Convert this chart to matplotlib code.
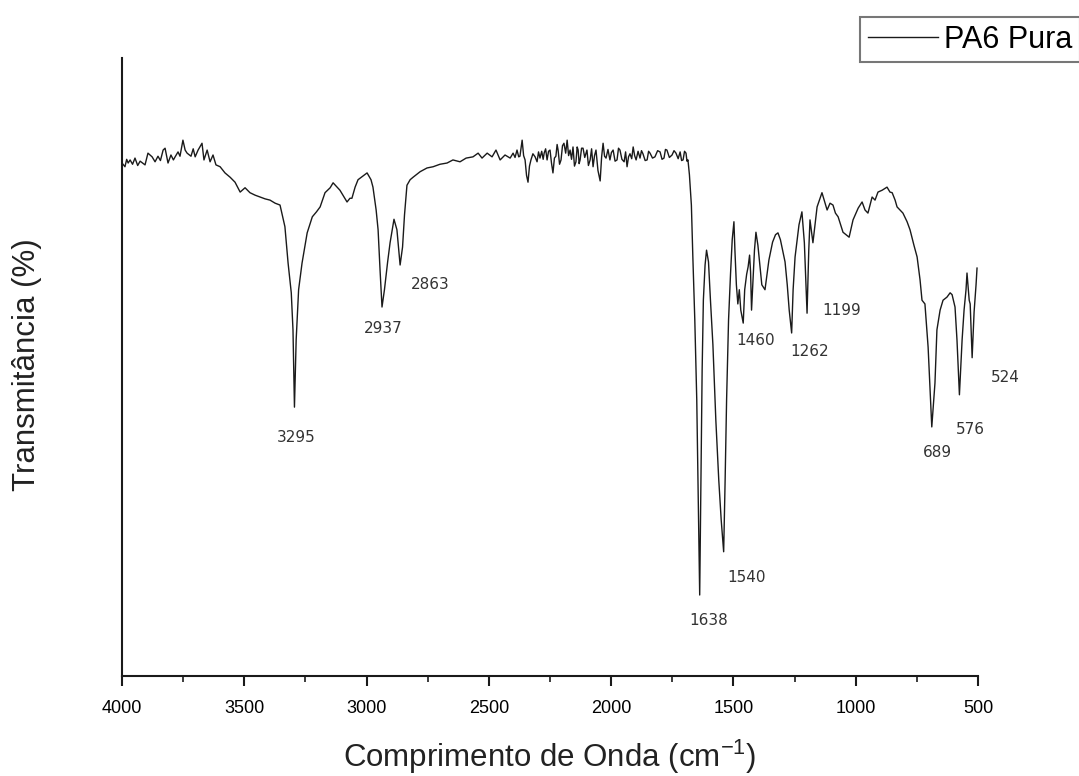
import matplotlib.pyplot as plt
import numpy as np

# FTIR spectrum of neat PA6 (wavenumber in cm-1, transmittance in %)
wavenumber = [
    4000, 3988, 3981, 3975, 3967, 3957, 3947, 3936, 3926, 3906, 3894, 3877, 3865, 3853,
    3843, 3832, 3824, 3812, 3800, 3790, 3783, 3771, 3763, 3751, 3742, 3734, 3718, 3709,
    3701, 3689, 3673, 3665, 3652, 3640, 3628, 3616, 3599, 3579, 3558, 3538, 3517, 3497,
    3477, 3456, 3436, 3415, 3395, 3374, 3354,
    3334, 3321, 3308, 3301, 3295, 3288, 3278, 3264, 3243, 3222, 3205, 3190, 3170, 3149,
    3137, 3121, 3109, 3080, 3068, 3060, 3047, 3035, 3015, 2998, 2982, 2974, 2961, 2953,
    2945, 2937, 2927, 2914, 2904, 2888, 2876, 2863, 2853, 2845, 2835, 2822, 2810, 2794,
    2781, 2753, 2728, 2700, 2671, 2647, 2618, 2593, 2565, 2544, 2528, 2507, 2487, 2471,
    2454, 2434, 2413,
    2401, 2393, 2385, 2378, 2373, 2368, 2364, 2358, 2352, 2346, 2340, 2334, 2328, 2320,
    2311, 2303, 2297, 2291, 2284, 2278, 2274, 2268, 2262, 2256, 2250, 2244, 2238, 2232,
    2226, 2221, 2217, 2211, 2205, 2199, 2193, 2186, 2180, 2174, 2168, 2162, 2156, 2150,
    2144, 2139, 2135, 2131, 2127, 2121, 2115, 2108, 2099, 2093, 2086, 2080, 2074, 2068,
    2062, 2054, 2045, 2039, 2033, 2027, 2021, 2013, 2005, 1999, 1992, 1984, 1976, 1970,
    1964, 1956, 1947, 1941, 1935, 1929, 1923, 1916, 1910, 1904, 1898, 1890, 1882, 1876,
    1870, 1861, 1853, 1847, 1841, 1831, 1821, 1810, 1800, 1792, 1784, 1778, 1772, 1762,
    1751, 1743, 1735, 1726, 1718, 1712, 1706, 1700, 1694, 1690,
    1686, 1680, 1672, 1666, 1658, 1650, 1644, 1638, 1633, 1628, 1623, 1616, 1610, 1602,
    1594, 1584, 1572, 1560, 1550, 1540, 1534, 1528, 1520, 1512, 1505, 1498, 1494, 1488,
    1482, 1476, 1470, 1460, 1454, 1446, 1440, 1434, 1430, 1426, 1420, 1414, 1408, 1400,
    1392, 1384, 1371, 1355, 1340, 1328, 1318, 1308, 1289, 1280, 1272, 1262, 1256, 1248,
    1232, 1220, 1210, 1199, 1192, 1187, 1175, 1158, 1138, 1117, 1105, 1093, 1083, 1072,
    1052, 1027, 1011, 990, 974, 962, 950, 933, 921, 909, 892, 872, 860, 851,
    839, 831, 819, 807, 790, 778, 762, 749, 737, 729, 717, 704, 696, 689,
    676, 668, 655, 643, 627, 614, 606, 594, 586, 576, 565, 557, 549, 545,
    536, 532, 524, 516, 508, 504,
]
transmittance = [
    83.0, 82.4, 83.6, 83.0, 83.5, 82.8, 83.8, 82.6, 83.3, 82.7, 84.6, 84.0, 83.2, 84.1,
    83.4, 85.1, 85.4, 83.0, 84.3, 83.5, 84.0, 84.8, 84.1, 86.7, 85.1, 84.6, 84.1, 85.3,
    84.0, 85.1, 86.2, 83.5, 85.1, 83.2, 84.3, 82.7, 82.4, 81.4, 80.7, 79.9, 78.3, 79.0,
    78.2, 77.8, 77.5, 77.2, 77.0, 76.5, 76.2,
    72.7, 66.8, 62.0, 56.0, 43.5, 54.4, 62.5, 66.8, 71.7, 74.3, 75.1, 75.9, 78.2, 79.0,
    79.8, 79.1, 78.6, 76.7, 77.3, 77.3, 79.1, 80.3, 80.9, 81.4, 80.3, 79.1, 75.4, 72.2,
    65.7, 59.7, 62.5, 67.0, 70.1, 73.9, 72.2, 66.5, 69.4, 74.6, 79.4, 80.3, 80.7, 81.2,
    81.6, 82.2, 82.4, 82.8, 83.0, 83.5, 83.2, 83.8, 84.0, 84.6, 83.8, 84.6, 84.0, 85.1,
    83.5, 84.3, 83.8,
    84.6, 83.9, 85.1, 84.0, 84.1, 85.5, 86.7, 84.2, 83.5, 81.0, 79.9, 82.5, 83.5, 84.5,
    84.0, 83.2, 84.8, 83.8, 84.9, 83.6, 84.6, 85.3, 83.5, 84.9, 85.1, 83.0, 81.4, 83.8,
    84.1, 86.0, 85.1, 82.8, 83.5, 85.8, 86.2, 84.6, 86.7, 84.2, 85.1, 83.6, 85.6, 82.5,
    83.2, 85.6, 85.1, 82.9, 83.5, 85.4, 85.4, 83.9, 85.1, 82.6, 83.5, 85.3, 82.4, 84.2,
    85.1, 81.8, 80.1, 84.0, 86.2, 84.1, 83.8, 85.2, 83.5, 84.7, 85.1, 83.3, 83.5, 85.4,
    85.1, 83.6, 83.2, 84.8, 82.4, 84.0, 84.5, 83.7, 85.6, 84.2, 83.5, 84.9, 83.8, 85.0,
    84.5, 83.4, 83.5, 84.9, 84.6, 83.8, 84.0, 85.0, 84.8, 83.6, 83.8, 85.2, 85.1, 83.9,
    84.3, 85.0, 84.6, 83.7, 84.8, 83.4, 83.5, 84.9, 84.6, 83.3,
    83.5, 81.1, 76.2, 67.8, 57.6, 44.7, 28.5, 13.1, 31.7, 49.5, 60.8, 66.5, 68.9, 67.0,
    60.8, 53.6, 41.4, 31.7, 25.2, 20.1, 31.7, 44.7, 57.6, 65.0, 70.6, 73.5, 68.9, 63.3,
    60.2, 62.5, 59.2, 57.1, 62.5, 65.0, 66.2, 68.1, 65.4, 59.2, 64.1, 68.9, 71.8, 69.7,
    66.5, 63.3, 62.5, 67.3, 70.2, 71.4, 71.7, 70.6, 67.0, 63.3, 59.2, 55.5, 62.5, 67.8,
    73.0, 75.1, 70.1, 58.7, 68.9, 73.8, 70.1, 75.9, 78.2, 75.4, 76.5, 76.2, 74.9, 74.3,
    71.8, 71.0, 73.8, 75.7, 76.7, 75.4, 74.9, 77.5, 77.0, 78.3, 78.6, 79.1, 78.3, 78.2,
    77.0, 75.9, 75.4, 74.9, 73.5, 72.2, 69.7, 67.8, 64.1, 60.8, 60.2, 53.2, 46.3, 40.3,
    47.4, 56.0, 59.2, 60.8, 61.3, 62.0, 61.7, 59.7, 54.4, 45.5, 54.4, 59.2, 62.5, 65.2,
    60.8, 60.2, 51.5, 58.9, 63.3, 66.0,
]

# labelled absorption bands and where each label sits relative to its minimum (pixels)
peak_positions = [3295, 2937, 2863, 1638, 1540, 1460, 1262, 1199, 689, 576, 524]
label_offsets = [(2, -30), (1, -21), (30, -20), (9, -25), (23, -26), (12, -17),
                 (18, -19), (35, 3), (6, -26), (11, -35), (33, -20)]

plt.rcParams['font.family'] = ['Liberation Sans', 'DejaVu Sans']
plt.rcParams['mathtext.default'] = 'regular'

fig = plt.figure(figsize=(10.79, 7.76), dpi=100)
ax = fig.add_axes([0.1131, 0.1289, 0.7933, 0.7964])

ax.plot(wavenumber, transmittance, color='#1a1a1a', linewidth=1.0, label='PA6 Pura')

for wn, off in zip(peak_positions, label_offsets):
    t = np.interp(wn, wavenumber[::-1], transmittance[::-1])
    ax.annotate(str(wn), xy=(wn, t), xytext=off, textcoords='offset pixels',
                ha='center', va='center', fontsize=11, color='#333333',
                family=['DejaVu Sans'])

ax.set_xlim(4000, 500)
ax.set_ylim(0, 100)
ax.spines[['top', 'right']].set_visible(False)
for side in ['left', 'bottom']:
    ax.spines[side].set_linewidth(1.5)
    ax.spines[side].set_color('#1a1a1a')

ax.set_yticks([])
ax.set_xticks(np.arange(4000, 499, -500))
ax.set_xticks(np.arange(3750, 500, -500), minor=True)
ax.tick_params(axis='x', which='major', length=7, width=1.5, labelsize=13, pad=10,
               color='#1a1a1a')
ax.tick_params(axis='x', which='minor', length=4, width=1.2, color='#1a1a1a')

ax.set_xlabel('Comprimento de Onda (cm$^{-1}$)', fontsize=22.5, color='#222222')
ax.set_ylabel('Transmitância (%)', fontsize=22.5, color='#222222')
ax.xaxis.set_label_coords(0.5, -0.1)
ax.yaxis.set_label_coords(-0.093, 0.503)

# legend box runs past the right edge of the figure
leg = ax.legend(loc='upper left', bbox_to_anchor=(860 / 1079, 1 - 17 / 776),
                bbox_transform=fig.transFigure, fontsize=22, frameon=True,
                fancybox=False, borderpad=0.25, handlelength=2.3,
                handletextpad=0.2, borderaxespad=0)
leg.get_frame().set_edgecolor('#555555')
leg.get_frame().set_linewidth(1.5)

fig.savefig('out.png', dpi=100)
